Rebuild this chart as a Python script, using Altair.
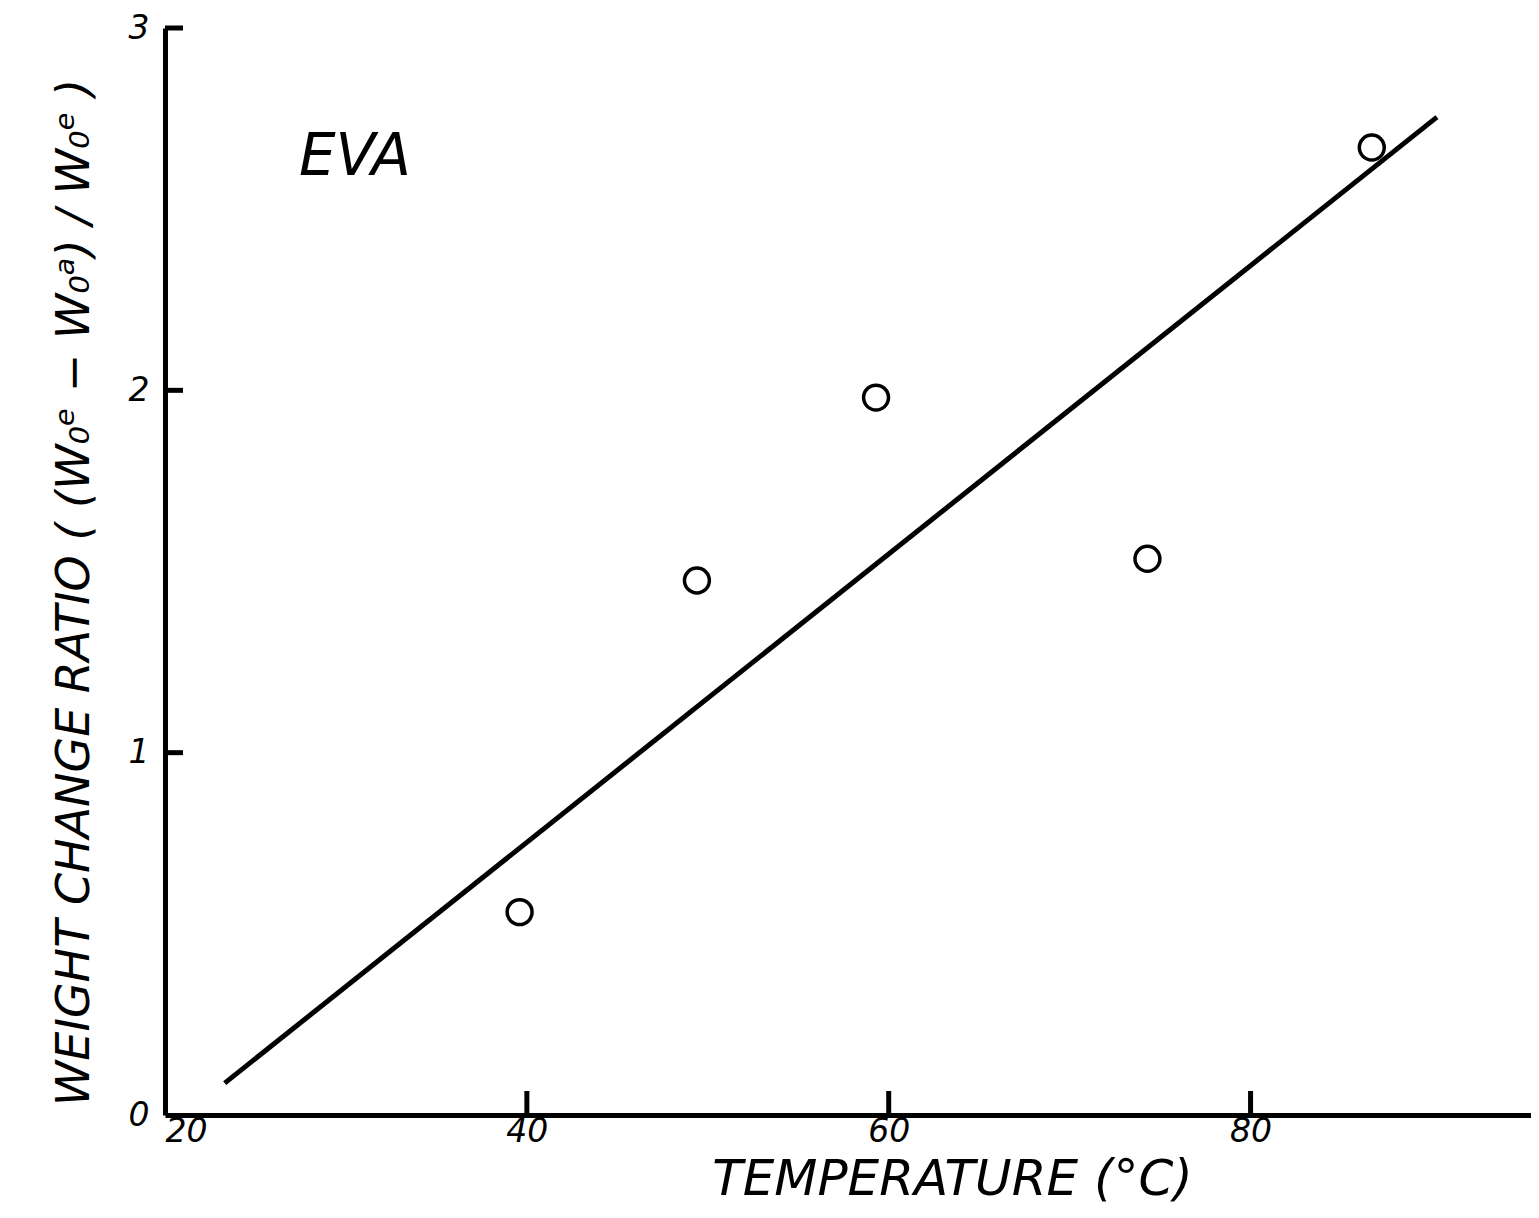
import altair as alt
import pandas as pd

# data points (temperature °C, weight change ratio)
temps = [39.6, 49.4, 59.3, 74.3, 86.7]
ratios = [0.56, 1.475, 1.98, 1.535, 2.67]

# fitted line end points
fit_x = [23.3, 90.3]
fit_y = [0.088, 2.754]

x_ticks = [20, 40, 60, 80]
y_ticks = [0, 1, 2, 3]

W, H = 1366, 1087
FONT = "DejaVu Sans"

pts = pd.DataFrame({"x": temps, "y": ratios})
fit = pd.DataFrame({"x": fit_x, "y": fit_y})
xt = pd.DataFrame({"x": [40, 60, 80]})
yt = pd.DataFrame({"y": [1, 2, 3]})
lab = pd.DataFrame({"x": [30.5], "y": [2.64], "t": ["EVA"]})

xs = alt.Scale(domain=[20, 95.5], nice=False, zero=False)
ys = alt.Scale(domain=[0, 3], nice=False, zero=False)

x_axis = alt.Axis(values=x_ticks, format="d", grid=False, ticks=False, domainWidth=5,
                  domainColor="black",
                  labelFont=FONT, labelFontSize=33, labelFontStyle="italic", labelColor="black",
                  labelPadding=0, title="TEMPERATURE (°C)", titleFont=FONT, titleFontSize=50,
                  titleFontStyle="italic", titleFontWeight="normal", titleColor="black",
                  titlePadding=6, titleX=787)
y_axis = alt.Axis(values=y_ticks, format="d", grid=False, ticks=False, domainWidth=5,
                  domainColor="black",
                  labelFont=FONT, labelFontSize=33, labelFontStyle="italic", labelColor="black",
                  labelPadding=16,
                  title="WEIGHT  CHANGE  RATIO  ( (W₀ᵉ − W₀ᵃ) / W₀ᵉ )",
                  titleFont=FONT, titleFontSize=46, titleFontStyle="italic",
                  titleFontWeight="normal", titleColor="black", titlePadding=30, titleY=564)

line = alt.Chart(fit).mark_line(color="black", strokeWidth=5).encode(
    x=alt.X("x:Q", scale=xs, axis=x_axis),
    y=alt.Y("y:Q", scale=ys, axis=y_axis),
)
points = alt.Chart(pts).mark_point(shape="circle", size=620, filled=False, color="black",
                                   strokeWidth=3.5, opacity=1).encode(
    x=alt.X("x:Q", scale=xs), y=alt.Y("y:Q", scale=ys))
xtick = alt.Chart(xt).mark_rule(color="black", strokeWidth=5).encode(
    x=alt.X("x:Q", scale=xs), y=alt.value(H), y2=alt.value(H - 24))
ytick = alt.Chart(yt).mark_rule(color="black", strokeWidth=5).encode(
    y=alt.Y("y:Q", scale=ys), x=alt.value(0), x2=alt.value(18))
eva = alt.Chart(lab).mark_text(font=FONT, fontSize=58, fontStyle="italic", color="black",
                               align="center", baseline="middle").encode(
    x=alt.X("x:Q", scale=xs), y=alt.Y("y:Q", scale=ys), text="t:N")

chart = alt.layer(line, points, xtick, ytick, eva).properties(
    width=W, height=H,
    autosize=alt.AutoSizeParams(type="none"),
    padding={"left": 157, "top": 20, "right": 0, "bottom": 95},
    background="white",
).configure_view(stroke=None)

chart.save("out.html", embed_options={"renderer": "svg", "actions": False})
